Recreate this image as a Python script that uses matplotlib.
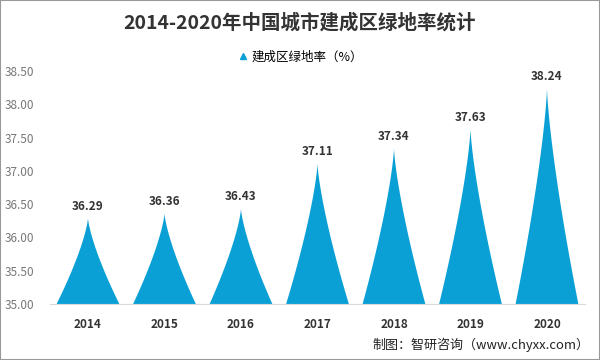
import numpy as np
import matplotlib
matplotlib.use("Agg")
import matplotlib.pyplot as plt
from matplotlib.patches import Polygon, Rectangle
from matplotlib.lines import Line2D

plt.rcParams['font.family'] = ['Noto Sans CJK SC', 'DejaVu Sans']

# data
years = ['2014', '2015', '2016', '2017', '2018', '2019', '2020']
rates = [36.29, 36.36, 36.43, 37.11, 37.34, 37.63, 38.24]
y_ticks = [35.0, 35.5, 36.0, 36.5, 37.0, 37.5, 38.0, 38.5]

blue = '#0aa0d6'
base = 35.0

fig = plt.figure(figsize=(6, 3.6), dpi=100)
ax = fig.add_axes([0.0829, 0.1556, 0.8925, 0.6472])

# spike shape: concave sides, half width shrinks as (1 - s) ** 1.35
hw = 0.41
s = np.linspace(0, 1, 80)
prof = (1 - s) ** 1.35
for i, v in enumerate(rates):
    h = v - base
    right = np.column_stack([i + hw * prof, base + s * h])
    left = np.column_stack([i - hw * prof[::-1], base + s[::-1] * h])
    ax.add_patch(Polygon(np.vstack([right, left]), closed=True,
                         facecolor=blue, edgecolor='none'))
    ax.text(i, v + 0.08, f'{v:.2f}', ha='center', va='bottom',
            fontsize=8.5, fontweight='bold', color='#333333')

ax.set_xlim(-0.5, len(years) - 0.5)
ax.set_ylim(35.0, 38.5)
ax.set_xticks(range(len(years)))
ax.set_xticklabels(years, fontsize=8.5, fontweight='bold', color='#333333')
ax.set_yticks(y_ticks)
ax.set_yticklabels([f'{t:.2f}' for t in y_ticks], fontsize=8.5, color='#777777')
ax.tick_params(axis='x', length=0, pad=10)
ax.tick_params(axis='y', length=0, pad=11)
for sp in ['top', 'right', 'left']:
    ax.spines[sp].set_visible(False)
ax.spines['bottom'].set_color('#d9d9d9')

# title, legend, source
fig.text(0.5, 0.938, '2014-2020年中国城市建成区绿地率统计', ha='center', va='center',
         fontsize=14, fontweight='bold', color='#333333')
handle = Line2D([], [], marker='^', linestyle='none', color=blue, markersize=5)
fig.legend([handle], ['建成区绿地率（%）'], loc='center', bbox_to_anchor=(0.5, 0.842),
           frameon=False, fontsize=9, handletextpad=0.2, handlelength=1)
fig.text(0.983, 0.042, '制图：智研咨询（www.chyxx.com）', ha='right', va='center',
         fontsize=9.4, color='#222222')

fig.patches.append(Rectangle((0, 0), 1, 1, transform=fig.transFigure, fill=False,
                             edgecolor='#999999', linewidth=1.5))

fig.savefig('out.png', dpi=100)
